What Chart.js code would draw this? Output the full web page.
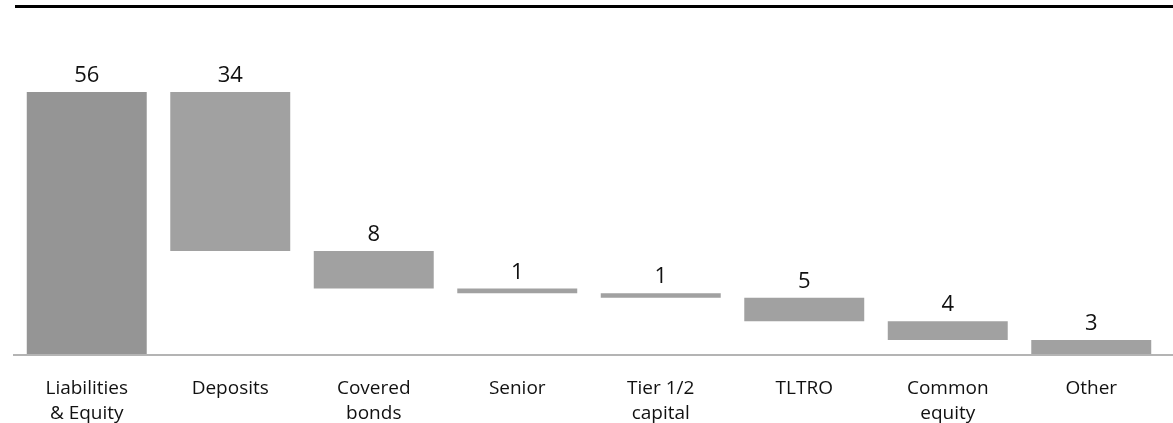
<!DOCTYPE html>
<html>
<head>
<meta charset="utf-8">
<script src="https://cdn.jsdelivr.net/npm/chart.js@4/dist/chart.umd.min.js"></script>
<style>
  html, body { margin: 0; padding: 0; background: #fff; }
  #wrap { width: 1173px; height: 423px; position: relative; }
</style>
</head>
<body>
<div id="wrap"><canvas id="c" width="1173" height="423"></canvas></div>
<script>
// Funding composition, bridge from total down to zero
const categories = [
  ['Liabilities', '& Equity'],
  ['Deposits'],
  ['Covered', 'bonds'],
  ['Senior'],
  ['Tier 1/2', 'capital'],
  ['TLTRO'],
  ['Common', 'equity'],
  ['Other']
];
const totalValue = 56;
const stepValues = [34, 8, 1, 1, 5, 4, 3];
const barColors = ['#959595', '#a1a1a1', '#a1a1a1', '#a1a1a1', '#a1a1a1', '#a1a1a1', '#a1a1a1', '#a1a1a1'];

// Floating ranges: the total from zero, then each step hanging from the running level
const labelValues = [totalValue].concat(stepValues);
const ranges = [[0, totalValue]];
let level = totalValue;
stepValues.forEach(v => { ranges.push([level - v, level]); level -= v; });

const FONT = '"Open Sans", "Noto Sans", sans-serif';

const decorations = {
  id: 'decorations',
  beforeDraw(chart) {
    const ctx = chart.ctx;
    ctx.save();
    ctx.fillStyle = '#000';
    ctx.fillRect(15, 5, chart.width - 15, 3);
    ctx.restore();
  },
  afterDatasetsDraw(chart) {
    const ctx = chart.ctx;
    const area = chart.chartArea;
    ctx.save();
    // baseline
    ctx.strokeStyle = '#b4b4b4';
    ctx.lineWidth = 2;
    ctx.beginPath();
    ctx.moveTo(13, area.bottom + 1);
    ctx.lineTo(chart.width, area.bottom + 1);
    ctx.stroke();
    // value labels
    const meta = chart.getDatasetMeta(0);
    ctx.fillStyle = '#111';
    ctx.font = '22px ' + FONT;
    ctx.textAlign = 'center';
    ctx.textBaseline = 'alphabetic';
    meta.data.forEach((bar, i) => {
      ctx.fillText(String(labelValues[i]), bar.x, Math.min(bar.y, bar.base) - 10);
    });
    ctx.restore();
  }
};

new Chart(document.getElementById('c'), {
  type: 'bar',
  data: {
    labels: categories,
    datasets: [{
      data: ranges,
      backgroundColor: barColors,
      borderWidth: 0,
      barPercentage: 0.836,
      categoryPercentage: 1.0
    }]
  },
  options: {
    responsive: false,
    animation: false,
    events: [],
    layout: { padding: { left: 15, right: 10, top: 92, bottom: 0 } },
    plugins: { legend: { display: false }, tooltip: { enabled: false } },
    scales: {
      x: {
        grid: { display: false, drawTicks: false },
        border: { display: false },
        ticks: {
          color: '#111',
          font: { family: FONT, size: 19, lineHeight: 1.32 },
          padding: 22,
          maxRotation: 0,
          autoSkip: false
        },
        afterFit(scale) { scale.height = 69; }
      },
      y: {
        display: false,
        min: 0,
        max: 56
      }
    }
  },
  plugins: [decorations]
});
</script>
</body>
</html>
